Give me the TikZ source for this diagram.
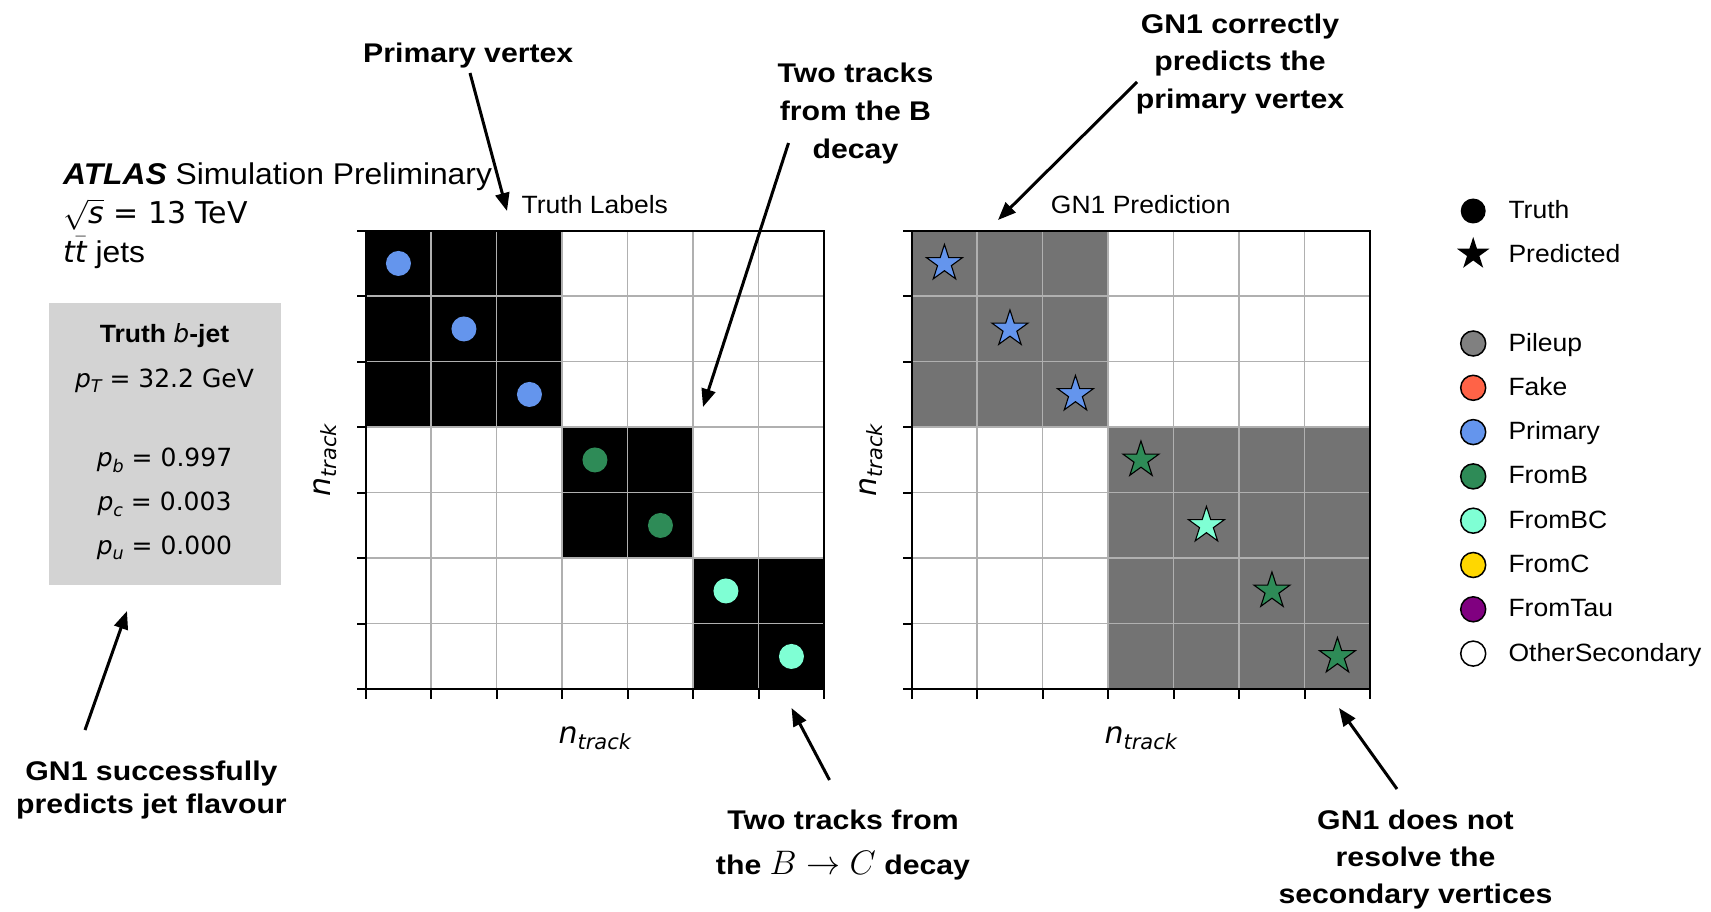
\documentclass[tikz,border=0pt]{standalone}
\usepackage{fix-cm}
\usepackage{fontspec}
\setmainfont[FakeStretch=1.06]{Liberation Sans}
\newfontfamily\annot[FakeStretch=1.12]{Liberation Sans}
\newfontfamily\dv{DejaVu Sans}
\usetikzlibrary{arrows.meta,shapes.geometric}
\definecolor{cblue}{HTML}{6495ED}
\definecolor{cgreen}{HTML}{2E8B57}
\definecolor{caqua}{HTML}{7FFFD4}
\definecolor{cfake}{HTML}{FF6347}
\definecolor{cgold}{HTML}{FFD700}
\definecolor{cpurple}{HTML}{800080}
\definecolor{cpile}{HTML}{808080}
\definecolor{predgray}{HTML}{737373}
\definecolor{boxgray}{HTML}{D3D3D3}
\definecolor{gridgray}{HTML}{B0B0B0}
\newcommand\sbx[1]{\raisebox{-0.22em}{\scalebox{0.7}{\itshape #1}}}
\begin{document}
\begin{tikzpicture}[x=1pt,y=-1pt,
  txt/.style={inner sep=0pt, anchor=base},
  ann/.style={txt, font=\annot\bfseries\fontsize{27}{32}\selectfont},
  lab/.style={txt, font=\fontsize{25}{30}\selectfont},
  dvt/.style={txt, font=\dv\fontsize{25}{30}\selectfont},
  dot/.style={circle, inner sep=0pt, minimum size=25pt},
  ldot/.style={dot, draw=black, line width=1.5pt},
  starmark/.style={star, star points=5, star point ratio=2.618, inner sep=0pt, minimum size=38pt, draw=black, line width=1.1pt},
  gridline/.style={draw=gridgray, line width=1.5pt},
  frameline/.style={draw=black, line width=1.8pt},
  tickline/.style={draw=black, line width=1.8pt},
  annarrow/.style={line width=3pt, -{Triangle[length=18pt,width=14pt]}},
]
\useasboundingbox (0,0) rectangle (1711,912);
\fill[white] (0,0) rectangle (1711,912);

% ---- ATLAS header ----
\node[txt, anchor=base west, font=\fontsize{30}{36}\selectfont] (atlas1) at (63,185) {\textbf{\textit{ATLAS}} Simulation Preliminary};
\node[txt, anchor=base west, font=\dv\fontsize{30}{36}\selectfont] (atlas2) at (63,224) {$\smash{\sqrt{\mbox{\dv\itshape s}}}$ = 13 TeV};
\node[txt, anchor=base west, font=\fontsize{30}{36}\selectfont] (atlas3) at (63,262) {{\dv\itshape t$\smash{\bar{\mbox{\dv\itshape t}}}$} jets};

% ---- info box ----
\node[fill=boxgray, inner sep=0pt, minimum width=232.4pt, minimum height=281.6pt, anchor=north west] (infobox) at (48.3,302.7) {};
\node[lab] (btitle) at (164.5,342.7) {\textbf{Truth }{\dv\itshape b}\textbf{-jet}};
\node[dvt] (ptv) at (164.5,387.3) {{\itshape p}\sbx{T} = 32.2 GeV};
\node[dvt] (pbv) at (164.5,466.7) {{\itshape p}\sbx{b} = 0.997};
\node[dvt] (pcv) at (164.5,510.7) {{\itshape p}\sbx{c} = 0.003};
\node[dvt] (puv) at (164.5,554) {{\itshape p}\sbx{u} = 0.000};

% ---- left grid: Truth Labels ----
\begin{scope}[shift={(365.7,230.7)}]
  \fill[black] (0,0) rectangle (196.5,196.5);
  \fill[black] (196.5,196.5) rectangle (327.5,327.5);
  \fill[black] (327.5,327.5) rectangle (458.5,458.5);
  \foreach \k in {65.5,131,196.5,262,327.5,393} {
    \draw[gridline] (\k,0) -- (\k,458.5);
    \draw[gridline] (0,\k) -- (458.5,\k);
  }
  \draw[frameline] (0,0) rectangle (458.5,458.5);
  \foreach \k in {0,65.5,131,196.5,262,327.5,393,458.5} {
    \draw[tickline] (0,\k) -- (-9,\k);
    \draw[tickline] (\k,458.5) -- (\k,468.5);
  }
  \foreach \i/\col in {0/cblue,1/cblue,2/cblue,3/cgreen,4/cgreen,5/caqua,6/caqua}
    \node[dot, fill=\col] (td\i) at ({(\i+0.5)*65.5},{(\i+0.5)*65.5}) {};
\end{scope}
\node[lab] (ttitle) at (594.8,213.3) {Truth Labels};
\node[txt, rotate=90, font=\dv\fontsize{30}{36}\selectfont] (ylabL) at (330,460.5) {{\itshape n}\sbx{track}};
\node[txt, font=\dv\fontsize{30}{36}\selectfont] (xlabL) at (594.8,743) {{\itshape n}\sbx{track}};

% ---- right grid: GN1 Prediction ----
\begin{scope}[shift={(911.7,230.7)}]
  \fill[predgray] (0,0) rectangle (196.5,196.5);
  \fill[predgray] (196.5,196.5) rectangle (458.5,458.5);
  \foreach \k in {65.5,131,196.5,262,327.5,393} {
    \draw[gridline] (\k,0) -- (\k,458.5);
    \draw[gridline] (0,\k) -- (458.5,\k);
  }
  \draw[frameline] (0,0) rectangle (458.5,458.5);
  \foreach \k in {0,65.5,131,196.5,262,327.5,393,458.5} {
    \draw[tickline] (0,\k) -- (-9,\k);
    \draw[tickline] (\k,458.5) -- (\k,468.5);
  }
  \foreach \i/\col in {0/cblue,1/cblue,2/cblue,3/cgreen,4/caqua,5/cgreen,6/cgreen}
    \node[starmark, fill=\col] (ps\i) at ({(\i+0.5)*65.5},{(\i+0.5)*65.5}) {};
\end{scope}
\node[lab] (ptitle) at (1140.8,213.3) {GN1 Prediction};
\node[txt, rotate=90, font=\dv\fontsize{30}{36}\selectfont] (ylabR) at (876,460.5) {{\itshape n}\sbx{track}};
\node[txt, font=\dv\fontsize{30}{36}\selectfont] (xlabR) at (1140.8,743) {{\itshape n}\sbx{track}};

% ---- legend ----
\node[dot, fill=black] (lgT) at (1473.2,211) {};
\node[lab, anchor=base west] (lgTt) at (1508.3,218.5) {Truth};
\node[star, star points=5, star point ratio=2.618, inner sep=0pt, minimum size=34pt, fill=black] (lgP) at (1473.2,254) {};
\node[lab, anchor=base west] (lgPt) at (1508.3,262) {Predicted};
\foreach \j/\col/\name in {0/cpile/Pileup,1/cfake/Fake,2/cblue/Primary,3/cgreen/FromB,4/caqua/FromBC,5/cgold/FromC,6/cpurple/FromTau,7/white/OtherSecondary} {
  \node[ldot, fill=\col] (lgc\j) at (1473.2,{343.5+\j*44.3}) {};
  \node[lab, anchor=base west] (lgl\j) at (1508.3,{351+\j*44.3}) {\name};
}

% ---- annotations ----
\node[ann] (pv) at (468.3,62.7) {Primary vertex};
\node[ann] (tb1) at (855.5,83) {Two tracks};
\node[ann] (tb2) at (855.5,121) {from the B};
\node[ann] (tb3) at (855.5,158.5) {decay};
\node[ann] (gc1) at (1240,33.3) {GN1 correctly};
\node[ann] (gc2) at (1240,70.7) {predicts the};
\node[ann] (gc3) at (1240,108.3) {primary vertex};
\node[ann] (gs1) at (151.5,780) {GN1 successfully};
\node[ann] (gs2) at (151.5,813) {predicts jet flavour};
\node[ann] (bc1) at (843,829.3) {Two tracks from};
\node[ann] (bc2) at (843,874) {the {\fontsize{34}{40}\selectfont$B\rightarrow C$} decay};
\node[ann] (gr1) at (1415.5,829.3) {GN1 does not};
\node[ann] (gr2) at (1415.5,866.5) {resolve the};
\node[ann] (gr3) at (1415.5,903.5) {secondary vertices};

% ---- arrows ----
\coordinate (a1s) at (470,73);   \coordinate (a1e) at (507,211);
\coordinate (a2s) at (788.5,143); \coordinate (a2e) at (703,407);
\coordinate (a3s) at (1137,82);  \coordinate (a3e) at (998,220);
\coordinate (a4s) at (85,730);   \coordinate (a4e) at (127,611);
\coordinate (a5s) at (829.5,780); \coordinate (a5e) at (791.5,708);
\coordinate (a6s) at (1397,789); \coordinate (a6e) at (1339,708);
\draw[annarrow] (a1s) -- (a1e);
\draw[annarrow] (a2s) -- (a2e);
\draw[annarrow] (a3s) -- (a3e);
\draw[annarrow] (a4s) -- (a4e);
\draw[annarrow] (a5s) -- (a5e);
\draw[annarrow] (a6s) -- (a6e);
\end{tikzpicture}
\end{document}
